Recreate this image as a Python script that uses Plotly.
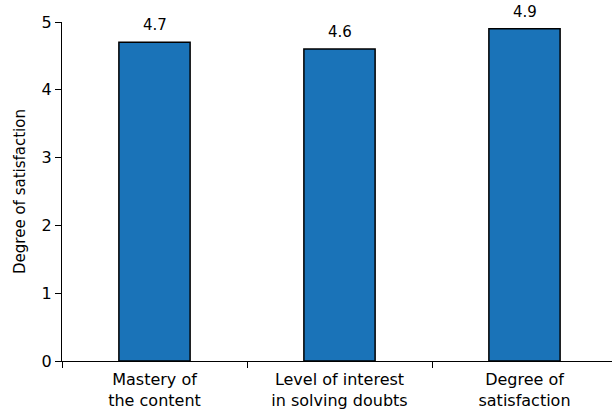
import plotly.graph_objects as go

categories = ["Mastery of<br>the content", "Level of interest<br>in solving doubts", "Degree of<br>satisfaction"]
values = [4.7, 4.6, 4.9]
value_labels = ["4.7", "4.6", "4.9"]
y_ticks = [0, 1, 2, 3, 4, 5]

font_family = "DejaVu Sans"

fig = go.Figure()
fig.add_trace(go.Bar(
    x=categories, y=values,
    marker=dict(color="#1a73b8", line=dict(color="black", width=1.5)),
    width=0.385, cliponaxis=False,
))
for c, v, t in zip(categories, values, value_labels):
    fig.add_annotation(x=c, y=v, text=t, showarrow=False, yanchor="bottom",
                       yshift=6, font=dict(family=font_family, size=15, color="black"))

fig.update_layout(
    width=612, height=416,
    margin=dict(l=62, r=0, t=22, b=55),
    plot_bgcolor="white", paper_bgcolor="white",
    showlegend=False,
    font=dict(family=font_family, size=16, color="black"),
    xaxis=dict(
        type="category", range=[-0.5, 2.473],
        showline=True, linecolor="black", linewidth=1.3,
        ticks="outside", tickson="boundaries", ticklen=6, tickcolor="black",
        tickfont=dict(size=16), showgrid=False, ticklabelstandoff=4,
    ),
    yaxis=dict(
        range=[0, 5], tickvals=y_ticks,
        showline=True, linecolor="black", linewidth=1.3,
        ticks="outside", ticklen=6, tickcolor="black",
        showgrid=False, zeroline=False,
        tickfont=dict(size=16),
        title=dict(text="Degree of satisfaction", font=dict(size=15), standoff=12),
    ),
)

fig.write_html("out.html")
